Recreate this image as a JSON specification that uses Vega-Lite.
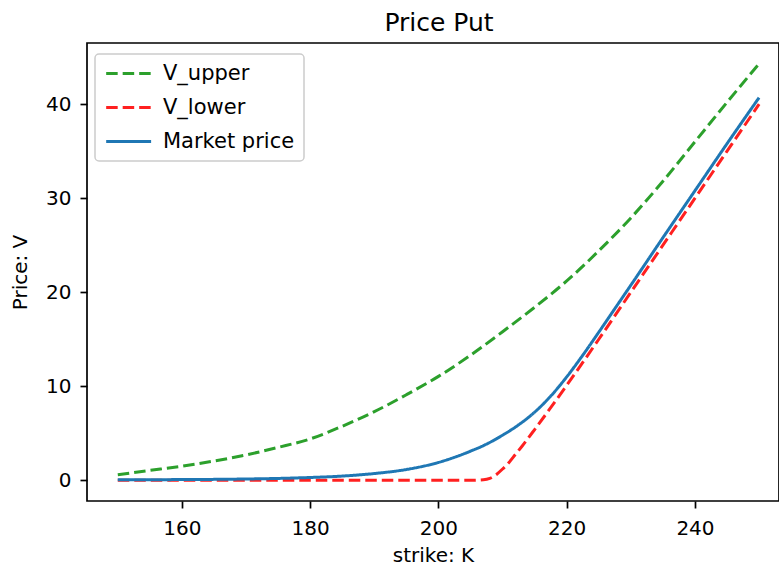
{
  "$schema": "https://vega.github.io/schema/vega-lite/v6.json",
  "width": 692,
  "height": 458,
  "autosize": {"type": "none"},
  "padding": {"left": 87, "top": 43, "right": 0, "bottom": 68},
  "background": "white",
  "title": {"text": "Price Put", "fontSize": 25, "font": "DejaVu Sans", "fontWeight": "normal", "color": "#000", "anchor": "middle", "offset": 7, "dx": 6},
  "data": {"values": [
    {"K":150,"V":0.6,"series":"V_upper"},{"K":155,"V":1.05,"series":"V_upper"},{"K":160,"V":1.5,"series":"V_upper"},{"K":165,"V":2.05,"series":"V_upper"},{"K":170,"V":2.7,"series":"V_upper"},{"K":175,"V":3.5,"series":"V_upper"},{"K":180,"V":4.4,"series":"V_upper"},{"K":185,"V":5.75,"series":"V_upper"},{"K":190,"V":7.3,"series":"V_upper"},{"K":195,"V":9.1,"series":"V_upper"},{"K":200,"V":11.05,"series":"V_upper"},{"K":205,"V":13.3,"series":"V_upper"},{"K":210,"V":15.8,"series":"V_upper"},{"K":215,"V":18.4,"series":"V_upper"},{"K":220,"V":21.2,"series":"V_upper"},{"K":225,"V":24.4,"series":"V_upper"},{"K":230,"V":27.9,"series":"V_upper"},{"K":235,"V":31.8,"series":"V_upper"},{"K":240,"V":36.0,"series":"V_upper"},{"K":245,"V":40.2,"series":"V_upper"},{"K":250,"V":44.3,"series":"V_upper"},
    {"K":150,"V":0,"series":"V_lower"},{"K":160,"V":0,"series":"V_lower"},{"K":170,"V":0,"series":"V_lower"},{"K":180,"V":0,"series":"V_lower"},{"K":190,"V":0,"series":"V_lower"},{"K":200,"V":0,"series":"V_lower"},{"K":205,"V":0,"series":"V_lower"},{"K":207,"V":0.05,"series":"V_lower"},{"K":208,"V":0.2,"series":"V_lower"},{"K":209,"V":0.6,"series":"V_lower"},{"K":210,"V":1.2,"series":"V_lower"},{"K":211,"V":1.9,"series":"V_lower"},{"K":212,"V":2.75,"series":"V_lower"},{"K":213,"V":3.6,"series":"V_lower"},{"K":215,"V":5.4,"series":"V_lower"},{"K":220,"V":10.1,"series":"V_lower"},{"K":225,"V":15.0,"series":"V_lower"},{"K":230,"V":20.0,"series":"V_lower"},{"K":235,"V":25.0,"series":"V_lower"},{"K":240,"V":30.0,"series":"V_lower"},{"K":245,"V":35.0,"series":"V_lower"},{"K":250,"V":40.0,"series":"V_lower"},
    {"K":150,"V":0.05,"series":"Market price"},{"K":155,"V":0.06,"series":"Market price"},{"K":160,"V":0.08,"series":"Market price"},{"K":165,"V":0.1,"series":"Market price"},{"K":170,"V":0.14,"series":"Market price"},{"K":175,"V":0.2,"series":"Market price"},{"K":180,"V":0.3,"series":"Market price"},{"K":185,"V":0.45,"series":"Market price"},{"K":190,"V":0.72,"series":"Market price"},{"K":195,"V":1.15,"series":"Market price"},{"K":200,"V":1.9,"series":"Market price"},{"K":205,"V":3.1,"series":"Market price"},{"K":207.5,"V":3.85,"series":"Market price"},{"K":210,"V":4.8,"series":"Market price"},{"K":212.5,"V":5.9,"series":"Market price"},{"K":215,"V":7.25,"series":"Market price"},{"K":217.5,"V":8.95,"series":"Market price"},{"K":220,"V":11.0,"series":"Market price"},{"K":222.5,"V":13.3,"series":"Market price"},{"K":225,"V":15.75,"series":"Market price"},{"K":227.5,"V":18.25,"series":"Market price"},{"K":230,"V":20.75,"series":"Market price"},{"K":235,"V":25.8,"series":"Market price"},{"K":240,"V":30.8,"series":"Market price"},{"K":245,"V":35.8,"series":"Market price"},{"K":250,"V":40.7,"series":"Market price"}
  ]},
  "mark": {"type": "line", "strokeWidth": 3, "interpolate": "monotone", "clip": true},
  "encoding": {
    "x": {"field": "K", "type": "quantitative", "title": "strike: K",
          "scale": {"domain": [145.2, 253.1], "nice": false, "zero": false},
          "axis": {"values": [160, 180, 200, 220, 240]}},
    "y": {"field": "V", "type": "quantitative", "title": "Price: V",
          "scale": {"domain": [-2.2, 46.5], "nice": false, "zero": false},
          "axis": {"values": [0, 10, 20, 30, 40]}},
    "color": {"field": "series", "type": "nominal", "title": null,
              "scale": {"domain": ["V_upper", "V_lower", "Market price"], "range": ["#2ca02c", "#ff2020", "#1f77b4"]}},
    "strokeDash": {"field": "series", "type": "nominal", "title": null,
              "scale": {"domain": ["V_upper", "V_lower", "Market price"], "range": [[11.5, 5], [11.5, 5], [1, 0]]}}
  },
  "config": {
    "font": "DejaVu Sans",
    "view": {"stroke": "#000", "strokeWidth": 1.7},
    "axis": {"domain": false, "grid": false, "tickColor": "#000", "tickWidth": 1.7, "tickSize": 7,
             "labelFont": "DejaVu Sans", "labelFontSize": 20, "labelColor": "#000",
             "titleFont": "DejaVu Sans", "titleFontSize": 20, "titleFontWeight": "normal", "titleColor": "#000"},
    "axisX": {"titlePadding": 7, "labelPadding": 10},
    "axisY": {"titlePadding": 15, "labelPadding": 9, "labelFlush": false},
    "legend": {"orient": "none", "legendX": 8, "legendY": 11, "padding": 9,
               "fillColor": "rgba(255,255,255,0.8)", "strokeColor": "#cccccc", "strokeWidth": 1.5, "cornerRadius": 4,
               "symbolType": "M-1,0H4.4", "symbolSize": 277, "symbolStrokeWidth": 3,
               "labelFont": "DejaVu Sans", "labelFontSize": 21, "labelColor": "#000", "labelOffset": 38,
               "rowPadding": 12}
  }
}
